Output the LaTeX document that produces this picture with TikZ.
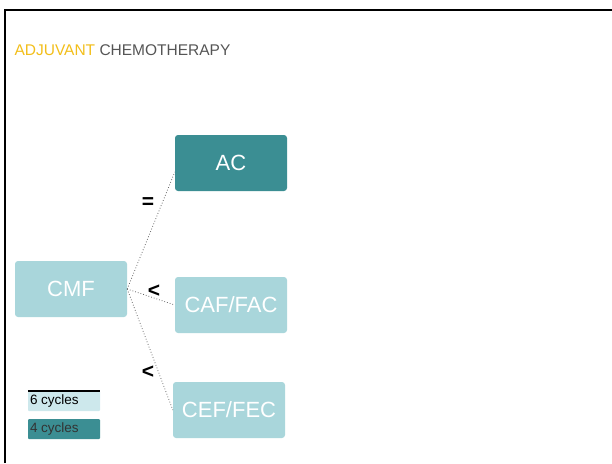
\documentclass[tikz,border=0pt]{standalone}
\usepackage{fontspec}
\setmainfont{Liberation Sans}
\definecolor{darkteal}{HTML}{3B8E93}
\definecolor{lightteal}{HTML}{A9D6DB}
\definecolor{paleteal}{HTML}{CDE8EC}
\definecolor{gold}{HTML}{F2BE1A}
\definecolor{titlegray}{HTML}{555555}
\begin{document}
\begin{tikzpicture}[x=1pt, y=-1pt,
  regimen/.style={rectangle, rounded corners=3pt, minimum width=112pt,
                  minimum height=56pt, inner sep=0pt, text=white,
                  font=\fontsize{22}{24}\selectfont, fill=#1},
  link/.style={dotted, gray!80!black, thick},
  rel/.style={font=\fontsize{21}{22}\selectfont\bfseries, inner sep=0pt},
  legend/.style={rectangle, rounded corners=1pt, minimum width=72pt,
                 minimum height=20pt, inner sep=1.5pt, fill=#1},
  legtext/.style={anchor=west, inner sep=0pt,
                  font=\fontsize{13.5}{14}\selectfont}
]
  \useasboundingbox (0,0) rectangle (612,463);
  % cadre
  \draw[line width=2pt] (5,463) -- (5,10) -- (613,10);
  % titre
  \node[anchor=west, font=\fontsize{15.5}{18}\selectfont, text=titlegray]
    (title) at (11,50) {\textcolor{gold}{ADJUVANT} CHEMOTHERAPY};
  % schémas
  \node[regimen=darkteal]  (ac)  at (231,163) {AC};
  \node[regimen=lightteal] (cmf) at (71,289)  {CMF};
  \node[regimen=lightteal] (caf) at (231,305) {CAF/FAC};
  \node[regimen=lightteal] (cef) at (229,410) {CEF/FEC};
  % liens
  \draw[link] (cmf.east) -- ([yshift=-9pt]ac.west);
  \draw[link] (cmf.east) -- (caf.west);
  \draw[link] (cmf.east) -- (cef.west);
  % comparaisons
  \node[rel] (eqac)  at (148,203) {=};
  \node[rel] (ltcaf) at (154,291) {<};
  \node[rel] (ltcef) at (148,372) {<};
  % légende
  \node[legend=paleteal] (six)  at (64,401) {};
  \node[legend=darkteal] (four) at (64,429) {};
  \node[legtext] (sixtext) at ([xshift=2pt]six.west) {6 cycles};
  \node[legtext, text=black!80] (fourtext) at ([xshift=2pt]four.west) {4 cycles};
  \draw[line width=1.4pt] (six.north west) -- (six.north east);
\end{tikzpicture}
\end{document}
